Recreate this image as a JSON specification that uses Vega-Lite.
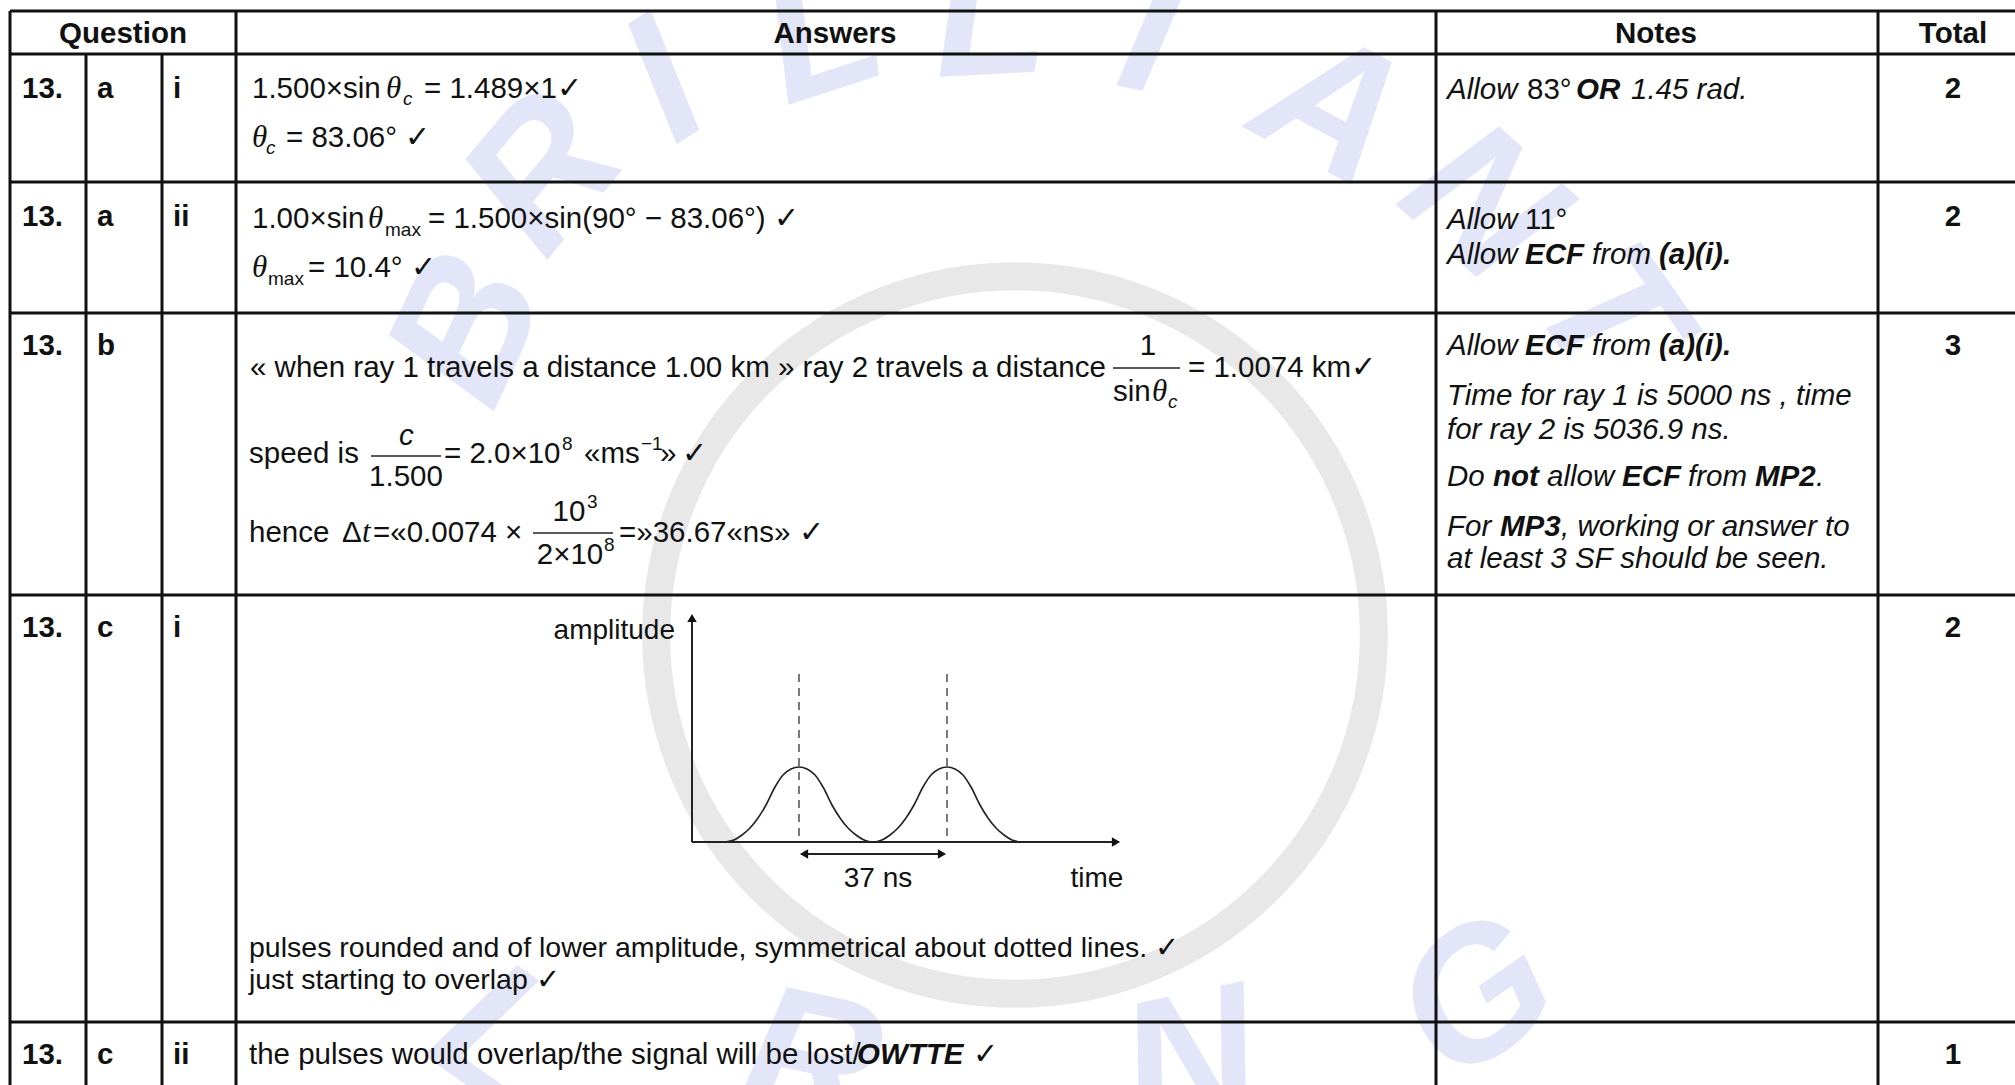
{
  "$schema": "https://vega.github.io/schema/vega-lite/v6.json",
  "width": 2015,
  "height": 1085,
  "autosize": {"type": "none"},
  "padding": 0,
  "background": "white",
  "config": {"view": {"stroke": null}},
  "datasets": {
    "wm": [
      {"t": "B", "x": 470, "y": 330, "ang": -65},
      {"t": "R", "x": 545, "y": 175, "ang": -50},
      {"t": "I", "x": 665, "y": 85, "ang": -33},
      {"t": "L", "x": 822, "y": 35, "ang": -18},
      {"t": "L", "x": 990, "y": 18, "ang": -3},
      {"t": "I", "x": 1150, "y": 35, "ang": 12},
      {"t": "A", "x": 1330, "y": 110, "ang": 28},
      {"t": "N", "x": 1480, "y": 205, "ang": 42},
      {"t": "T", "x": 1605, "y": 315, "ang": 55},
      {"t": "L", "x": 500, "y": 1040, "ang": 35},
      {"t": "R", "x": 810, "y": 1065, "ang": 12},
      {"t": "N", "x": 1190, "y": 1065, "ang": -12},
      {"t": "G", "x": 1478, "y": 1000, "ang": -35}
    ],
    "ring": [{"x": 1015, "y": 635}],
    "rules": [
      {"k": "grid", "x": 10, "x2": 2015, "y": 11, "y2": 11},
      {"k": "grid", "x": 10, "x2": 2015, "y": 54, "y2": 54},
      {"k": "grid", "x": 10, "x2": 2015, "y": 182, "y2": 182},
      {"k": "grid", "x": 10, "x2": 2015, "y": 313, "y2": 313},
      {"k": "grid", "x": 10, "x2": 2015, "y": 595, "y2": 595},
      {"k": "grid", "x": 10, "x2": 2015, "y": 1022, "y2": 1022},
      {"k": "grid", "x": 10, "x2": 10, "y": 11, "y2": 1085},
      {"k": "grid", "x": 86, "x2": 86, "y": 54, "y2": 1085},
      {"k": "grid", "x": 162, "x2": 162, "y": 54, "y2": 1085},
      {"k": "grid", "x": 236, "x2": 236, "y": 11, "y2": 1085},
      {"k": "grid", "x": 1436, "x2": 1436, "y": 11, "y2": 1085},
      {"k": "grid", "x": 1878, "x2": 1878, "y": 11, "y2": 1085},
      {"k": "axis", "x": 692, "x2": 692, "y": 618, "y2": 842},
      {"k": "axis", "x": 692, "x2": 1114, "y": 842, "y2": 842},
      {"k": "axis", "x": 806, "x2": 940, "y": 854, "y2": 854},
      {"k": "dash", "x": 799, "x2": 799, "y": 674, "y2": 842},
      {"k": "dash", "x": 947, "x2": 947, "y": 674, "y2": 842},
      {"k": "bar", "x": 1113, "x2": 1180, "y": 368, "y2": 368},
      {"k": "bar", "x": 371, "x2": 441, "y": 456, "y2": 456},
      {"k": "bar", "x": 533, "x2": 613, "y": 533, "y2": 533}
    ],
    "heads": [
      {"k": "up", "x": 692, "y": 618},
      {"k": "right", "x": 1116, "y": 842},
      {"k": "left", "x": 804, "y": 854},
      {"k": "right", "x": 942, "y": 854}
    ],
    "pulse": [
      {"x": 725, "y": 842}, {"x": 734, "y": 840}, {"x": 742, "y": 835}, {"x": 750, "y": 828},
      {"x": 758, "y": 818}, {"x": 766, "y": 805}, {"x": 775, "y": 787}, {"x": 783, "y": 775},
      {"x": 791, "y": 769}, {"x": 799, "y": 767}, {"x": 807, "y": 769}, {"x": 815, "y": 775},
      {"x": 823, "y": 787}, {"x": 832, "y": 805}, {"x": 840, "y": 818}, {"x": 848, "y": 828},
      {"x": 856, "y": 835}, {"x": 864, "y": 840}, {"x": 873, "y": 842}, {"x": 882, "y": 840},
      {"x": 890, "y": 835}, {"x": 898, "y": 828}, {"x": 906, "y": 818}, {"x": 914, "y": 805},
      {"x": 923, "y": 787}, {"x": 931, "y": 775}, {"x": 939, "y": 769}, {"x": 947, "y": 767},
      {"x": 955, "y": 769}, {"x": 963, "y": 775}, {"x": 971, "y": 787}, {"x": 980, "y": 805},
      {"x": 988, "y": 818}, {"x": 996, "y": 828}, {"x": 1004, "y": 835}, {"x": 1012, "y": 840},
      {"x": 1021, "y": 842}
    ],
    "texts": [
      {"k": "h", "t": "Question", "x": 123, "y": 34},
      {"k": "h", "t": "Answers", "x": 835, "y": 34},
      {"k": "h", "t": "Notes", "x": 1656, "y": 34},
      {"k": "h", "t": "Total", "x": 1953, "y": 34},

      {"k": "q", "t": "13.", "x": 22, "y": 89},
      {"k": "q", "t": "a", "x": 97, "y": 89},
      {"k": "q", "t": "i", "x": 173, "y": 89},
      {"k": "a", "t": "1.500×sin", "x": 252, "y": 89},
      {"k": "th", "t": "θ", "x": 386, "y": 89},
      {"k": "sbi", "t": "c", "x": 403, "y": 99},
      {"k": "a", "t": "= 1.489×1✓", "x": 424, "y": 89},
      {"k": "th", "t": "θ", "x": 252, "y": 138},
      {"k": "sbi", "t": "c", "x": 266, "y": 148},
      {"k": "a", "t": "= 83.06° ✓", "x": 286, "y": 138},
      {"k": "i", "t": "Allow", "x": 1447, "y": 90},
      {"k": "a", "t": "83°", "x": 1527, "y": 90},
      {"k": "bi", "t": "OR", "x": 1576, "y": 90},
      {"k": "i", "t": "1.45 rad.", "x": 1631, "y": 90},
      {"k": "h", "t": "2", "x": 1953, "y": 89},

      {"k": "q", "t": "13.", "x": 22, "y": 217},
      {"k": "q", "t": "a", "x": 97, "y": 217},
      {"k": "q", "t": "ii", "x": 173, "y": 217},
      {"k": "a", "t": "1.00×sin", "x": 252, "y": 219},
      {"k": "th", "t": "θ", "x": 368, "y": 219},
      {"k": "sb", "t": "max", "x": 385, "y": 230},
      {"k": "a", "t": "= 1.500×sin(90° − 83.06°) ✓", "x": 428, "y": 219},
      {"k": "th", "t": "θ", "x": 252, "y": 268},
      {"k": "sb", "t": "max", "x": 268, "y": 279},
      {"k": "a", "t": "= 10.4° ✓", "x": 308, "y": 268},
      {"k": "i", "t": "Allow", "x": 1447, "y": 220},
      {"k": "a", "t": "11°", "x": 1525, "y": 220},
      {"k": "i", "t": "Allow", "x": 1447, "y": 255},
      {"k": "bi", "t": "ECF", "x": 1525, "y": 255},
      {"k": "i", "t": "from", "x": 1592, "y": 255},
      {"k": "bi", "t": "(a)(i).", "x": 1659, "y": 255},
      {"k": "h", "t": "2", "x": 1953, "y": 217},

      {"k": "q", "t": "13.", "x": 22, "y": 346},
      {"k": "q", "t": "b", "x": 97, "y": 346},
      {"k": "a", "t": "« when ray 1 travels a distance 1.00 km » ray 2 travels a distance", "x": 250, "y": 368},
      {"k": "ac", "t": "1", "x": 1148, "y": 346},
      {"k": "a", "t": "sin", "x": 1113, "y": 392},
      {"k": "th", "t": "θ", "x": 1152, "y": 392},
      {"k": "sbi", "t": "c", "x": 1168, "y": 402},
      {"k": "a", "t": "= 1.0074  km✓", "x": 1188, "y": 368},
      {"k": "a", "t": "speed is", "x": 249, "y": 454},
      {"k": "i", "t": "c", "x": 399, "y": 436},
      {"k": "ac", "t": "1.500", "x": 406, "y": 477},
      {"k": "a", "t": "= 2.0×10", "x": 444, "y": 454},
      {"k": "sb", "t": "8", "x": 562, "y": 444},
      {"k": "a", "t": "«ms", "x": 584, "y": 454},
      {"k": "sb", "t": "−1", "x": 641, "y": 444},
      {"k": "a", "t": "»", "x": 660, "y": 454},
      {"k": "a", "t": "✓", "x": 682, "y": 454},
      {"k": "a", "t": "hence", "x": 249, "y": 533},
      {"k": "a", "t": "Δ", "x": 342, "y": 533},
      {"k": "th", "t": "t", "x": 362, "y": 533},
      {"k": "a", "t": "=«0.0074 ×", "x": 373, "y": 533},
      {"k": "ac", "t": "10", "x": 569, "y": 512},
      {"k": "sb", "t": "3", "x": 587, "y": 502},
      {"k": "ac", "t": "2×10", "x": 570, "y": 555},
      {"k": "sb", "t": "8", "x": 604, "y": 545},
      {"k": "a", "t": "=»36.67«ns» ✓", "x": 619, "y": 533},
      {"k": "i", "t": "Allow", "x": 1447, "y": 346},
      {"k": "bi", "t": "ECF", "x": 1525, "y": 346},
      {"k": "i", "t": "from", "x": 1592, "y": 346},
      {"k": "bi", "t": "(a)(i).", "x": 1659, "y": 346},
      {"k": "i", "t": "Time for ray 1 is 5000 ns , time", "x": 1447, "y": 396},
      {"k": "i", "t": "for ray 2 is 5036.9 ns.", "x": 1447, "y": 430},
      {"k": "i", "t": "Do", "x": 1447, "y": 477},
      {"k": "bi", "t": "not", "x": 1493, "y": 477},
      {"k": "i", "t": "allow", "x": 1547, "y": 477},
      {"k": "bi", "t": "ECF", "x": 1622, "y": 477},
      {"k": "i", "t": "from", "x": 1688, "y": 477},
      {"k": "bi", "t": "MP2", "x": 1755, "y": 477},
      {"k": "i", "t": ".", "x": 1816, "y": 477},
      {"k": "i", "t": "For", "x": 1447, "y": 527},
      {"k": "bi", "t": "MP3", "x": 1500, "y": 527},
      {"k": "i", "t": ", working or answer to", "x": 1561, "y": 527},
      {"k": "i", "t": "at least 3 SF should be seen.", "x": 1447, "y": 559},
      {"k": "h", "t": "3", "x": 1953, "y": 346},

      {"k": "q", "t": "13.", "x": 22, "y": 628},
      {"k": "q", "t": "c", "x": 97, "y": 628},
      {"k": "q", "t": "i", "x": 173, "y": 628},
      {"k": "ar", "t": "amplitude", "x": 675, "y": 631},
      {"k": "lab", "t": "37 ns", "x": 878, "y": 879},
      {"k": "lab", "t": "time", "x": 1097, "y": 879},
      {"k": "al", "t": "pulses rounded and of lower amplitude, symmetrical about dotted lines. ✓", "x": 249, "y": 948},
      {"k": "al", "t": "just starting to overlap ✓", "x": 249, "y": 980},
      {"k": "h", "t": "2", "x": 1953, "y": 628},

      {"k": "q", "t": "13.", "x": 22, "y": 1055},
      {"k": "q", "t": "c", "x": 97, "y": 1055},
      {"k": "q", "t": "ii", "x": 173, "y": 1055},
      {"k": "a", "t": "the pulses would overlap/the signal will be lost/", "x": 249, "y": 1055},
      {"k": "bi", "t": "OWTTE", "x": 857, "y": 1055},
      {"k": "a", "t": "✓", "x": 973, "y": 1055},
      {"k": "h", "t": "1", "x": 1953, "y": 1055}
    ]
  },
  "encoding": {
    "x": {"field": "x", "type": "quantitative", "scale": {"domain": [0, 2015], "nice": false, "zero": false}, "axis": null},
    "y": {"field": "y", "type": "quantitative", "scale": {"domain": [0, 1085], "nice": false, "zero": false, "reverse": true}, "axis": null}
  },
  "layer": [
    {
      "data": {"name": "wm"},
      "mark": {"type": "text", "font": "Liberation Sans", "fontWeight": "bold", "fontStyle": "italic", "fontSize": 185, "align": "center", "baseline": "middle", "color": "#e3e6f8", "clip": true},
      "encoding": {"text": {"field": "t"}, "angle": {"field": "ang", "type": "quantitative", "scale": null}}
    },
    {
      "data": {"name": "ring"},
      "mark": {"type": "point", "shape": "circle", "size": 515000, "filled": false, "stroke": "#e8e8e8", "strokeWidth": 28, "opacity": 1, "clip": true}
    },
    {
      "data": {"name": "rules"},
      "transform": [{"filter": "datum.k == 'grid'"}],
      "mark": {"type": "rule", "color": "#111111", "strokeWidth": 3},
      "encoding": {"x2": {"field": "x2"}, "y2": {"field": "y2"}}
    },
    {
      "data": {"name": "rules"},
      "transform": [{"filter": "datum.k == 'axis'"}],
      "mark": {"type": "rule", "color": "#222222", "strokeWidth": 2},
      "encoding": {"x2": {"field": "x2"}, "y2": {"field": "y2"}}
    },
    {
      "data": {"name": "rules"},
      "transform": [{"filter": "datum.k == 'dash'"}],
      "mark": {"type": "rule", "color": "#333333", "strokeWidth": 1.3, "strokeDash": [8, 6]},
      "encoding": {"x2": {"field": "x2"}, "y2": {"field": "y2"}}
    },
    {
      "data": {"name": "rules"},
      "transform": [{"filter": "datum.k == 'bar'"}],
      "mark": {"type": "rule", "color": "#222222", "strokeWidth": 1.5},
      "encoding": {"x2": {"field": "x2"}, "y2": {"field": "y2"}}
    },
    {
      "data": {"name": "pulse"},
      "mark": {"type": "line", "interpolate": "monotone", "color": "#222222", "strokeWidth": 1.6}
    },
    {
      "data": {"name": "heads"},
      "transform": [{"filter": "datum.k == 'up'"}],
      "mark": {"type": "point", "shape": "triangle-up", "filled": true, "color": "#111111", "size": 90, "opacity": 1}
    },
    {
      "data": {"name": "heads"},
      "transform": [{"filter": "datum.k == 'right'"}],
      "mark": {"type": "point", "shape": "triangle-right", "filled": true, "color": "#111111", "size": 90, "opacity": 1}
    },
    {
      "data": {"name": "heads"},
      "transform": [{"filter": "datum.k == 'left'"}],
      "mark": {"type": "point", "shape": "triangle-left", "filled": true, "color": "#111111", "size": 90, "opacity": 1}
    },
    {
      "data": {"name": "texts"},
      "transform": [{"filter": "datum.k == 'h'"}],
      "mark": {"type": "text", "font": "Liberation Sans", "fontWeight": "bold", "fontSize": 29.5, "align": "center", "baseline": "middle", "color": "#111111"},
      "encoding": {"text": {"field": "t"}}
    },
    {
      "data": {"name": "texts"},
      "transform": [{"filter": "datum.k == 'q'"}],
      "mark": {"type": "text", "font": "Liberation Sans", "fontWeight": "bold", "fontSize": 29.5, "align": "left", "baseline": "middle", "color": "#111111"},
      "encoding": {"text": {"field": "t"}}
    },
    {
      "data": {"name": "texts"},
      "transform": [{"filter": "datum.k == 'a'"}],
      "mark": {"type": "text", "font": "Liberation Sans", "fontSize": 29.5, "align": "left", "baseline": "middle", "color": "#111111"},
      "encoding": {"text": {"field": "t"}}
    },
    {
      "data": {"name": "texts"},
      "transform": [{"filter": "datum.k == 'al'"}],
      "mark": {"type": "text", "font": "Liberation Sans", "fontSize": 28.5, "align": "left", "baseline": "middle", "color": "#111111"},
      "encoding": {"text": {"field": "t"}}
    },
    {
      "data": {"name": "texts"},
      "transform": [{"filter": "datum.k == 'ac'"}],
      "mark": {"type": "text", "font": "Liberation Sans", "fontSize": 29.5, "align": "center", "baseline": "middle", "color": "#111111"},
      "encoding": {"text": {"field": "t"}}
    },
    {
      "data": {"name": "texts"},
      "transform": [{"filter": "datum.k == 'lab'"}],
      "mark": {"type": "text", "font": "Liberation Sans", "fontSize": 28, "align": "center", "baseline": "middle", "color": "#111111"},
      "encoding": {"text": {"field": "t"}}
    },
    {
      "data": {"name": "texts"},
      "transform": [{"filter": "datum.k == 'ar'"}],
      "mark": {"type": "text", "font": "Liberation Sans", "fontSize": 28, "align": "right", "baseline": "middle", "color": "#111111"},
      "encoding": {"text": {"field": "t"}}
    },
    {
      "data": {"name": "texts"},
      "transform": [{"filter": "datum.k == 'i'"}],
      "mark": {"type": "text", "font": "Liberation Sans", "fontStyle": "italic", "fontSize": 29.5, "align": "left", "baseline": "middle", "color": "#111111"},
      "encoding": {"text": {"field": "t"}}
    },
    {
      "data": {"name": "texts"},
      "transform": [{"filter": "datum.k == 'bi'"}],
      "mark": {"type": "text", "font": "Liberation Sans", "fontStyle": "italic", "fontWeight": "bold", "fontSize": 29.5, "align": "left", "baseline": "middle", "color": "#111111"},
      "encoding": {"text": {"field": "t"}}
    },
    {
      "data": {"name": "texts"},
      "transform": [{"filter": "datum.k == 'th'"}],
      "mark": {"type": "text", "font": "Liberation Serif", "fontStyle": "italic", "fontSize": 31, "align": "left", "baseline": "middle", "color": "#111111"},
      "encoding": {"text": {"field": "t"}}
    },
    {
      "data": {"name": "texts"},
      "transform": [{"filter": "datum.k == 'sbi'"}],
      "mark": {"type": "text", "font": "Liberation Sans", "fontStyle": "italic", "fontSize": 19, "align": "left", "baseline": "middle", "color": "#111111"},
      "encoding": {"text": {"field": "t"}}
    },
    {
      "data": {"name": "texts"},
      "transform": [{"filter": "datum.k == 'sb'"}],
      "mark": {"type": "text", "font": "Liberation Sans", "fontSize": 19, "align": "left", "baseline": "middle", "color": "#111111"},
      "encoding": {"text": {"field": "t"}}
    }
  ]
}
